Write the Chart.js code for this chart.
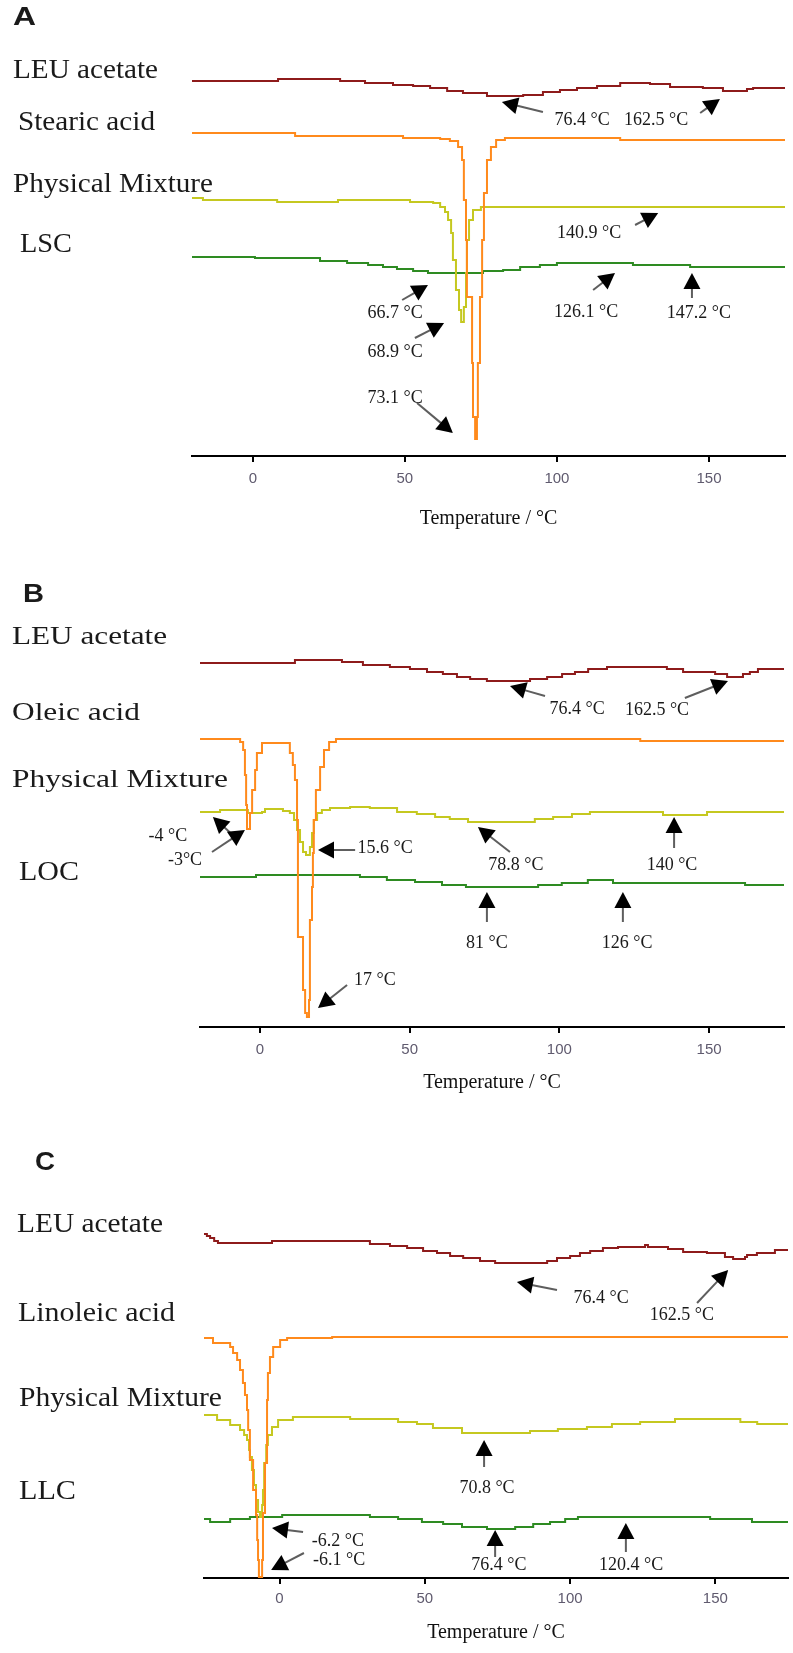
<!DOCTYPE html>
<html><head><meta charset="utf-8">
<script src="https://cdn.jsdelivr.net/npm/chart.js@4.4.1/dist/chart.umd.min.js"></script>
<style>
html,body{margin:0;padding:0;background:#fff;}
#page{position:relative;width:793px;height:1653px;overflow:hidden;background:#fff;}
canvas{position:absolute;left:0;}
</style></head><body>
<div id="page">
<canvas id="cA" width="793" height="545" style="top:0px"></canvas>
<canvas id="cB" width="793" height="560" style="top:545px"></canvas>
<canvas id="cC" width="793" height="548" style="top:1105px"></canvas>
</div>
<script>
// ---------- shared axis ----------
const tickValues = [0, 50, 100, 150];
const axisTitle = 'Temperature / °C';

// ---------- Panel A (temperature °C, signal a.u.) ----------
const A_LEU_T = [-20, 8.3, 28.7, 36.9, 46.1, 52.7, 58.3, 63.9, 69.1, 77.0, 88.9, 95.4, 101.0, 106.6, 113.2, 120.8, 130.6, 137.2, 148.0, 154.6, 162.5, 164.5, 175];
const A_LEU_V = [37.5, 37.7, 37.5, 37.3, 37.1, 37.0, 36.8, 36.5, 36.3, 36.0, 36.1, 36.4, 36.6, 36.8, 37.0, 37.3, 37.2, 36.9, 36.8, 36.5, 36.7, 36.8, 36.8];
const A_SA_T = [-20, 13.9, 49.4, 61.6, 64.8, 67.5, 68.8, 69.4, 70.1, 70.4, 72.1, 72.4, 73.1, 73.7, 74.0, 74.7, 75.4, 76.0, 77.0, 78.3, 80.0, 82.9, 120.8, 175];
const A_SA_V = [32.3, 32.0, 31.8, 31.7, 31.5, 30.9, 29.6, 25.6, 21.6, 15.9, 9.3, 3.9, 1.7, 3.9, 9.3, 15.9, 21.6, 26.3, 29.6, 30.9, 31.6, 31.8, 31.6, 31.6];
const A_PM_T = [-20, -16.4, 8.0, 28.0, 51.7, 59.3, 61.6, 63.2, 64.2, 65.2, 65.8, 66.8, 67.8, 68.5, 69.4, 70.1, 70.4, 71.1, 72.4, 75.0, 175];
const A_PM_V = [25.8, 25.6, 25.4, 25.6, 25.4, 25.3, 24.9, 24.4, 23.6, 22.3, 19.6, 16.6, 14.6, 13.4, 14.9, 18.3, 21.6, 23.6, 24.6, 24.9, 24.9];
const A_LSC_T = [-20, 0.7, 22.1, 31.0, 37.9, 42.8, 47.4, 52.7, 57.6, 75.7, 82.3, 87.9, 94.4, 100.0, 125.0, 143.8, 175];
const A_LSC_V = [19.9, 19.8, 19.5, 19.3, 19.1, 18.9, 18.7, 18.5, 18.3, 18.5, 18.6, 18.9, 19.1, 19.3, 19.1, 18.9, 18.9];

// ---------- Panel B ----------
const B_LEU_T = [-20, 11.7, 27.4, 34.4, 43.4, 50.1, 55.8, 61.1, 65.8, 70.2, 75.8, 90.2, 95.9, 100.9, 105.2, 109.6, 115.9, 135.9, 141.3, 152.0, 156.0, 161.3, 163.6, 166.3, 175];
const B_LEU_V = [36.4, 36.7, 36.5, 36.2, 36.0, 35.8, 35.5, 35.3, 35.0, 34.8, 34.6, 34.8, 35.0, 35.3, 35.5, 35.8, 36.0, 35.8, 35.5, 35.3, 35.0, 35.3, 35.5, 35.8, 35.8];
const B_OA_T = [-20, -6.6, -5.6, -5.0, -4.6, -4.3, -3.3, -2.6, -1.6, -1.0, 0.7, 10.0, 11.0, 11.7, 12.4, 12.7, 14.4, 15.1, 15.7, 16.4, 16.7, 17.4, 17.7, 18.0, 18.7, 20.1, 21.4, 23.1, 25.4, 127.0, 175];
const B_OA_V = [28.8, 28.5, 27.7, 25.2, 22.2, 19.8, 21.4, 23.7, 25.7, 27.4, 28.4, 27.4, 26.2, 24.7, 20.7, 9.0, 3.7, 1.4, 1.0, 2.7, 10.7, 14.0, 17.4, 20.7, 23.7, 26.0, 27.7, 28.5, 28.8, 28.6, 28.6];
const B_PM_T = [-20, -13.3, -4.0, 0.7, 1.7, 7.7, 10.0, 11.4, 12.4, 13.4, 14.4, 15.4, 16.7, 17.4, 18.0, 19.1, 20.7, 23.4, 30.1, 36.7, 45.8, 52.4, 58.5, 63.4, 69.5, 91.8, 97.9, 104.2, 110.2, 134.6, 149.3, 175];
const B_PM_V = [21.5, 21.7, 21.4, 21.5, 21.8, 21.6, 21.4, 20.7, 19.7, 18.5, 17.5, 17.2, 18.0, 19.4, 20.7, 21.4, 21.7, 21.9, 22.0, 21.9, 21.5, 21.3, 21.0, 20.8, 20.5, 20.8, 21.0, 21.3, 21.5, 21.2, 21.5, 21.5];
const B_LOC_T = [-20, -1.3, 33.4, 42.4, 51.8, 60.8, 68.8, 92.9, 100.8, 109.5, 117.9, 162.0, 175];
const B_LOC_V = [15.0, 15.2, 15.0, 14.7, 14.5, 14.2, 14.0, 14.2, 14.4, 14.7, 14.4, 14.2, 14.2];

// ---------- Panel C ----------
const C_LEU_T = [-26, -25.0, -23.9, -22.5, -21.2, -2.6, 31.1, 38.0, 43.9, 49.4, 54.2, 58.7, 63.2, 69.0, 74.2, 92.1, 95.5, 100.0, 103.4, 106.9, 111.3, 116.5, 125.8, 126.8, 133.7, 138.9, 147.1, 153.3, 156.1, 160.2, 160.9, 164.3, 170.5, 175];
const C_LEU_V = [34.4, 34.2, 34.0, 33.7, 33.5, 33.7, 33.4, 33.2, 33.0, 32.7, 32.5, 32.2, 32.0, 31.7, 31.5, 31.7, 32.0, 32.2, 32.5, 32.7, 33.0, 33.1, 33.3, 33.1, 32.9, 32.6, 32.5, 32.1, 31.9, 32.1, 32.3, 32.5, 32.8, 32.8];
const C_LA_T = [-26, -22.9, -17.0, -16.0, -14.6, -13.6, -12.6, -11.9, -11.2, -10.8, -10.2, -9.1, -8.1, -7.7, -7.4, -7.1, -6.0, -5.7, -5.0, -4.3, -4.0, -3.3, -2.2, 0.2, 2.6, 18.1, 175];
const C_LA_V = [24.0, 23.5, 23.1, 22.5, 21.8, 20.8, 19.5, 18.3, 16.8, 14.8, 11.8, 8.8, 6.3, 3.8, 1.8, 0.1, 1.8, 6.5, 11.5, 17.8, 20.5, 22.1, 23.1, 23.8, 24.0, 24.1, 24.1];
const C_PM_T = [-26, -21.5, -17.0, -13.6, -12.2, -11.2, -10.5, -10.2, -9.5, -8.8, -8.1, -7.4, -6.7, -6.0, -5.7, -5.3, -4.6, -4.0, -2.6, -0.5, 4.6, 24.3, 40.8, 47.3, 52.8, 62.8, 86.2, 95.8, 105.8, 114.4, 124.1, 136.1, 158.6, 164.4, 175];
const C_PM_V = [16.3, 15.8, 15.3, 14.8, 14.3, 13.8, 12.8, 12.1, 10.8, 9.3, 7.8, 6.6, 6.1, 7.3, 8.8, 11.5, 13.3, 14.3, 15.1, 15.8, 16.1, 15.9, 15.6, 15.4, 15.0, 14.5, 14.7, 14.9, 15.1, 15.4, 15.6, 15.9, 15.6, 15.4, 15.4];
const C_LLC_T = [-26, -23.9, -17.0, -10.2, 0.9, 31.1, 40.8, 49.0, 56.3, 62.8, 71.4, 81.1, 87.3, 93.1, 98.3, 102.7, 148.2, 162.6, 175];
const C_LLC_V = [5.9, 5.6, 5.9, 6.1, 6.3, 6.1, 5.9, 5.6, 5.4, 5.1, 4.9, 5.1, 5.4, 5.6, 5.9, 6.1, 5.9, 5.6, 5.6];

// ---------- annotation texts (label, text anchor, arrow tail, arrow tip in data units) ----------
const A_notes = [
  {t:'76.4 °C', at:[108.3,33.6], from:[95.4,34.4], to:[81.9,35.4]},
  {t:'162.5 °C', at:[132.6,33.6], from:[147.1,34.3], to:[153.6,35.7]},
  {t:'140.9 °C', at:[110.6,22.3], from:[125.7,23.1], to:[133.3,24.3]},
  {t:'126.1 °C', at:[109.6,14.4], from:[111.9,16.6], to:[119.1,18.3]},
  {t:'147.2 °C', at:[146.7,14.3], from:[144.4,15.8], to:[144.4,18.3]},
  {t:'66.7 °C', at:[46.8,14.3], from:[49.1,15.6], to:[57.6,17.1]},
  {t:'68.9 °C', at:[46.8,10.4], from:[53.3,11.8], to:[62.9,13.3]},
  {t:'73.1 °C', at:[46.8,5.8], from:[54.0,5.3], to:[65.8,2.3]}
];
const B_notes = [
  {t:'76.4 °C', at:[105.9,31.8], from:[95.2,33.1], to:[83.5,34.1]},
  {t:'162.5 °C', at:[132.6,31.7], from:[141.9,32.9], to:[156.3,34.6]},
  {t:'78.8 °C', at:[85.5,16.2], from:[83.5,17.5], to:[72.8,20.0]},
  {t:'140 °C', at:[137.6,16.2], from:[138.3,17.9], to:[138.3,21.0]},
  {t:'-4 °C', at:[-30.7,19.1], from:[-8.7,19.1], to:[-15.7,21.0]},
  {t:'-3°C', at:[-25.0,16.7], from:[-16.0,17.5], to:[-5.0,19.7]},
  {t:'15.6 °C', at:[41.8,17.9], from:[31.8,17.7], to:[19.4,17.7]},
  {t:'81 °C', at:[75.8,8.4], from:[75.8,10.5], to:[75.8,13.5]},
  {t:'126 °C', at:[122.6,8.4], from:[121.2,10.5], to:[121.2,13.5]},
  {t:'17 °C', at:[38.4,4.7], from:[29.1,4.2], to:[19.4,1.9]}
];
const C_notes = [
  {t:'76.4 °C', at:[110.7,28.0], from:[95.5,28.8], to:[81.7,29.6]},
  {t:'162.5 °C', at:[138.5,26.3], from:[143.7,27.5], to:[154.4,30.8]},
  {t:'70.8 °C', at:[71.4,9.0], from:[70.4,11.1], to:[70.4,13.8]},
  {t:'76.4 °C', at:[75.5,1.3], from:[74.2,2.1], to:[74.2,4.8]},
  {t:'120.4 °C', at:[121.0,1.3], from:[119.2,2.6], to:[119.2,5.5]},
  {t:'-6.2 °C', at:[20.1,3.7], from:[8.1,4.6], to:[-2.6,5.0]},
  {t:'-6.1 °C', at:[20.5,1.8], from:[8.4,2.5], to:[-2.9,0.8]}
];

// ---------- styles ----------
const COL_LEU = '#8e1b1b', COL_ACID = '#ff8a1c', COL_PM = '#c5c820', COL_LIPID = '#2e8b22';
const SERIF = '"Liberation Serif", "Times New Roman", serif';
const SANS = '"Liberation Sans", Arial, sans-serif';

// page-layout labels (page pixel coordinates)
const A_labels = [
  {text:'A', x:13, y:25, w:23, font:'bold 26px '+SANS},
  {text:'LEU acetate', x:13, y:78, w:145, font:'27px '+SERIF},
  {text:'Stearic acid', x:18, y:130, w:137, font:'27px '+SERIF},
  {text:'Physical Mixture', x:13, y:192, w:200, font:'27px '+SERIF},
  {text:'LSC', x:20, y:252, w:52, font:'27px '+SERIF}
];
const B_labels = [
  {text:'B', x:23, y:602, w:21, font:'bold 26px '+SANS},
  {text:'LEU acetate', x:12, y:644, w:155, font:'25px '+SERIF},
  {text:'Oleic acid', x:12, y:720, w:128, font:'26px '+SERIF},
  {text:'Physical Mixture', x:12, y:787, w:216, font:'26px '+SERIF},
  {text:'LOC', x:19, y:880, w:60, font:'27px '+SERIF}
];
const C_labels = [
  {text:'C', x:35, y:1170, w:20, font:'bold 26px '+SANS},
  {text:'LEU acetate', x:17, y:1232, w:146, font:'27px '+SERIF},
  {text:'Linoleic acid', x:18, y:1321, w:157, font:'27px '+SERIF},
  {text:'Physical Mixture', x:19, y:1406, w:203, font:'27px '+SERIF},
  {text:'LLC', x:19, y:1499, w:57, font:'27px '+SERIF}
];

const decorPlugin = {
  id: 'decor',
  afterDatasetsDraw(chart, args, opts) {
    const ctx = chart.ctx, xs = chart.scales.x, ys = chart.scales.y;
    const P = p => [xs.getPixelForValue(p[0]), ys.getPixelForValue(p[1])];
    ctx.save();
    (opts.notes || []).forEach(n => {
      const [x1, y1] = P(n.from), [x2, y2] = P(n.to);
      const dx = x2 - x1, dy = y2 - y1, L = Math.hypot(dx, dy) || 1;
      const ux = dx / L, uy = dy / L, hl = Math.min(16, L), hw = 8.5;
      const bx = x2 - ux * hl, by = y2 - uy * hl;
      ctx.strokeStyle = '#5e5e5e'; ctx.lineWidth = 2;
      ctx.beginPath(); ctx.moveTo(x1, y1); ctx.lineTo(bx + ux, by + uy); ctx.stroke();
      ctx.fillStyle = '#000';
      ctx.beginPath(); ctx.moveTo(x2, y2);
      ctx.lineTo(bx - uy * hw, by + ux * hw); ctx.lineTo(bx + uy * hw, by - ux * hw);
      ctx.closePath(); ctx.fill();
      const [tx, ty] = P(n.at);
      ctx.font = '18px ' + SERIF; ctx.fillStyle = '#1a1a1a';
      ctx.textAlign = 'center'; ctx.textBaseline = 'middle';
      ctx.fillText(n.t, tx, ty);
    });
    (opts.labels || []).forEach(l => {
      ctx.font = l.font;
      const w = ctx.measureText(l.text).width;
      ctx.save();
      ctx.translate(l.x, l.y - opts.pageTop);
      ctx.scale(l.w / w, 1);
      ctx.textAlign = 'left'; ctx.textBaseline = 'alphabetic'; ctx.fillStyle = '#1a1a1a';
      ctx.fillText(l.text, 0, 0);
      ctx.restore();
    });
    ctx.restore();
  }
};

function series(T, V, color) {
  return {
    data: T.map((t, i) => ({x: t, y: V[i]})),
    borderColor: color, borderWidth: 2, pointRadius: 0, stepped: 'before',
    fill: false, tension: 0, clip: false
  };
}

function makeChart(id, cfg) {
  return new Chart(document.getElementById(id), {
    type: 'line',
    data: {datasets: cfg.series},
    options: {
      responsive: false, animation: false, devicePixelRatio: 1,
      layout: {padding: {left: cfg.left, right: 793 - cfg.right, top: cfg.top, bottom: 0}},
      plugins: {legend: {display: false}, tooltip: {enabled: false},
        decor: {notes: cfg.notes, labels: cfg.labels, pageTop: cfg.pageTop}},
      scales: {
        x: {
          type: 'linear', position: 'bottom', min: cfg.min, max: 175,
          afterFit: s => { s.height = cfg.h - cfg.axisY; },
          afterBuildTicks: s => { s.ticks = tickValues.map(v => ({value: v})); },
          border: {display: true, color: '#000', width: 2},
          grid: {drawOnChartArea: false, drawTicks: true, tickLength: 6, color: '#000', lineWidth: 2},
          ticks: {font: {family: SANS, size: 15}, color: '#5f5a6e', padding: cfg.tickPad, maxRotation: 0, autoSkip: false},
          title: {display: true, text: axisTitle, font: {family: SERIF, size: 20}, color: '#111',
                  padding: {top: 0, bottom: cfg.titlePad}}
        },
        y: {display: false, min: 0, max: (cfg.axisY - cfg.top) / 10}
      }
    },
    plugins: [decorPlugin]
  });
}

makeChart('cA', {
  h: 545, axisY: 456, top: 40, left: 192, right: 785, min: -20, tickPad: 8, titlePad: 14, pageTop: 0,
  series: [series(A_LEU_T, A_LEU_V, COL_LEU), series(A_SA_T, A_SA_V, COL_ACID),
           series(A_PM_T, A_PM_V, COL_PM), series(A_LSC_T, A_LSC_V, COL_LIPID)],
  notes: A_notes, labels: A_labels
});
makeChart('cB', {
  h: 560, axisY: 482, top: 40, left: 200, right: 784, min: -20, tickPad: 8, titlePad: 10, pageTop: 545,
  series: [series(B_LEU_T, B_LEU_V, COL_LEU), series(B_OA_T, B_OA_V, COL_ACID),
           series(B_PM_T, B_PM_V, COL_PM), series(B_LOC_T, B_LOC_V, COL_LIPID)],
  notes: B_notes, labels: B_labels
});
makeChart('cC', {
  h: 548, axisY: 473, top: 40, left: 204, right: 788, min: -26, tickPad: 6, titlePad: 8, pageTop: 1105,
  series: [series(C_LEU_T, C_LEU_V, COL_LEU), series(C_LA_T, C_LA_V, COL_ACID),
           series(C_PM_T, C_PM_V, COL_PM), series(C_LLC_T, C_LLC_V, COL_LIPID)],
  notes: C_notes, labels: C_labels
});
</script>
</body></html>
